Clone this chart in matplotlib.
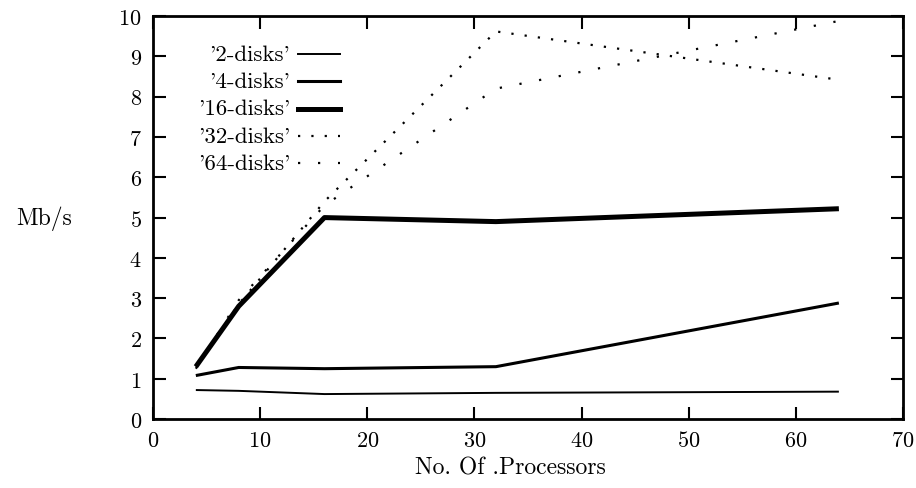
import numpy as np
import matplotlib
matplotlib.use('Agg')
import matplotlib.pyplot as plt
from matplotlib import rcParams

rcParams['font.family'] = ['cmr10', 'DejaVu Serif']
rcParams['axes.formatter.use_mathtext'] = True

# data
procs = [4, 8, 16, 32, 64]
disks_2 = [0.72, 0.70, 0.62, 0.65, 0.68]
disks_4 = [1.08, 1.28, 1.25, 1.30, 2.88]
disks_16 = [1.30, 2.80, 5.00, 4.90, 5.22]
disks_32 = [1.30, 2.85, 5.40, 9.62, 8.42]
disks_64 = [1.25, 2.95, 5.30, 8.20, 9.88]

labels = ["'2-disks'", "'4-disks'", "'16-disks'", "'32-disks'", "'64-disks'"]
series = [disks_2, disks_4, disks_16, disks_32, disks_64]
styles = [
    dict(lw=1.4, ls='-'),
    dict(lw=2.2, ls='-'),
    dict(lw=3.6, ls='-'),
    dict(lw=1.6, ls=(0, (1, 5.0))),
    dict(lw=1.6, ls=(0, (1, 8.0))),
]


def draw():
    fig = plt.figure(figsize=(9.16, 4.89), dpi=100)
    ax = fig.add_axes([0.167, 0.141, 0.819, 0.824])
    for y, st in zip(series, styles):
        ax.plot(procs, y, color='black', solid_capstyle='butt',
                dash_capstyle='butt', **st)

    # legend drawn by hand: labels right aligned, sample on the right
    for i, (lab, st) in enumerate(zip(labels, styles)):
        yy = 0.906 - i * 0.0677
        ax.text(0.183, yy, lab, transform=ax.transAxes, ha='right',
                va='center', fontsize=16.5)
        ax.plot([0.193, 0.249], [yy, yy], transform=ax.transAxes,
                color='black', dash_capstyle='butt', **st)

    ax.set_xlim(0, 70)
    ax.set_ylim(0, 10)
    ax.set_xticks(range(0, 71, 10))
    ax.set_yticks(range(0, 11))
    ax.tick_params(direction='in', length=9, width=1.5, top=True,
                   right=True, labelsize=16, pad=8)
    for s in ax.spines.values():
        s.set_linewidth(2)
    ax.set_xlabel('No. Of .Processors', fontsize=17)
    ax.xaxis.set_label_coords(0.476, -0.092)
    ax.set_ylabel('Mb/s', fontsize=17, rotation=0, ha='center', va='center')
    ax.yaxis.set_label_coords(-0.145, 0.5)
    fig.savefig('out.png', dpi=100)


def main():
    draw()


if __name__ == '__main__':
    main()
